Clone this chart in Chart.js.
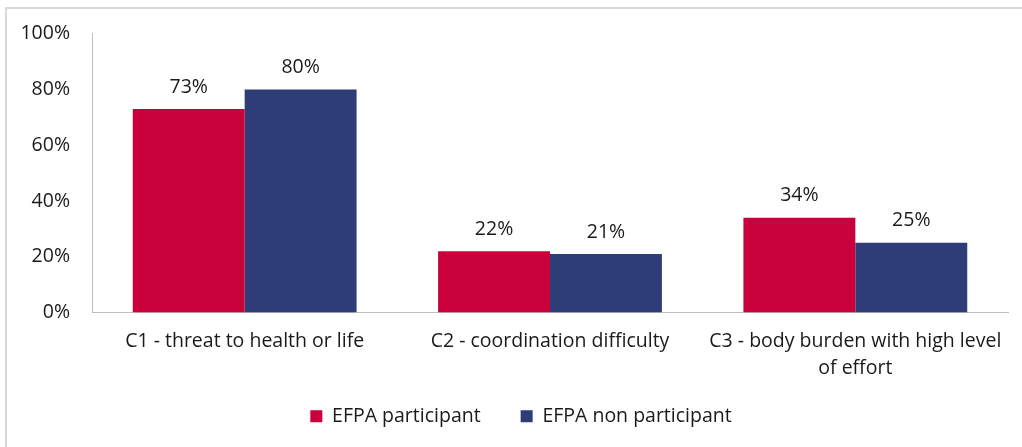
<!DOCTYPE html>
<html>
<head>
<meta charset="utf-8">
<script src="https://cdn.jsdelivr.net/npm/chart.js@4"></script>
<style>
  html, body { margin: 0; padding: 0; background: #fff; width: 1022px; height: 447px; overflow: hidden; }
  #frame { position: absolute; left: 5px; top: 7px; width: 1040px; height: 460px; border: 2px solid #d9d9d9; box-sizing: border-box; }
  #wrap { position: absolute; left: 0; top: 0; width: 1022px; height: 447px; }
</style>
</head>
<body>
<div id="frame"></div>
<div id="wrap"><canvas id="c" width="1022" height="447"></canvas></div>
<script>
const categories = [
  "C1 - threat to health or life",
  "C2 - coordination difficulty",
  ["C3 - body burden with high level", "of effort"]
];
const seriesNames = ["EFPA participant", "EFPA non participant"];
const participant = [73, 22, 34];
const nonParticipant = [80, 21, 25];
const yTicks = [0, 20, 40, 60, 80, 100];
const colors = ["#C8003C", "#2E3D78"];

const FONT = "'Open Sans', Lato, sans-serif";
const FSIZE = 19.5;

const valueLabels = {
  id: 'valueLabels',
  afterDatasetsDraw(chart) {
    const ctx = chart.ctx;
    ctx.save();
    ctx.font = FSIZE + "px " + FONT;
    ctx.fillStyle = "#1a1a1a";
    ctx.textAlign = "center";
    ctx.textBaseline = "middle";
    chart.data.datasets.forEach((ds, di) => {
      const meta = chart.getDatasetMeta(di);
      meta.data.forEach((bar, i) => {
        ctx.fillText(ds.data[i] + "%", bar.x, bar.y - 22);
      });
    });
    ctx.restore();
  }
};

new Chart(document.getElementById('c'), {
  type: 'bar',
  data: {
    labels: categories,
    datasets: [
      { label: seriesNames[0], data: participant, backgroundColor: colors[0], borderWidth: 0 },
      { label: seriesNames[1], data: nonParticipant, backgroundColor: colors[1], borderWidth: 0 }
    ]
  },
  options: {
    responsive: false,
    animation: false,
    layout: { padding: { top: 32, right: 14, bottom: 11, left: 34 } },
    datasets: { bar: { categoryPercentage: 0.733, barPercentage: 1.0 } },
    scales: {
      x: {
        grid: { display: false, drawTicks: false },
        border: { display: true, color: '#bfbfbf', width: 1 },
        ticks: { color: '#1a1a1a', font: { family: FONT, size: FSIZE, lineHeight: 1.4 }, padding: 15, maxRotation: 0, autoSkip: false },
        afterFit(s) { s.height = 54; s._computeLabelArea = () => undefined; }
      },
      y: {
        min: 0, max: 100,
        afterBuildTicks(s) { s.ticks = yTicks.map(v => ({ value: v })); },
        grid: { display: false, drawTicks: false },
        border: { display: true, color: '#bfbfbf', width: 1 },
        ticks: { color: '#1a1a1a', font: { family: FONT, size: FSIZE }, padding: 22, callback: v => v + '%' },
        afterFit(s) { s.width = 58; s._computeLabelArea = () => undefined; }
      }
    },
    plugins: {
      legend: {
        position: 'bottom',
        labels: {
          boxWidth: 12, boxHeight: 12, padding: 40,
          color: '#1a1a1a',
          font: { family: FONT, size: FSIZE }
        }
      },
      tooltip: { enabled: false },
      title: { display: false }
    }
  },
  plugins: [valueLabels]
});
</script>
</body>
</html>
